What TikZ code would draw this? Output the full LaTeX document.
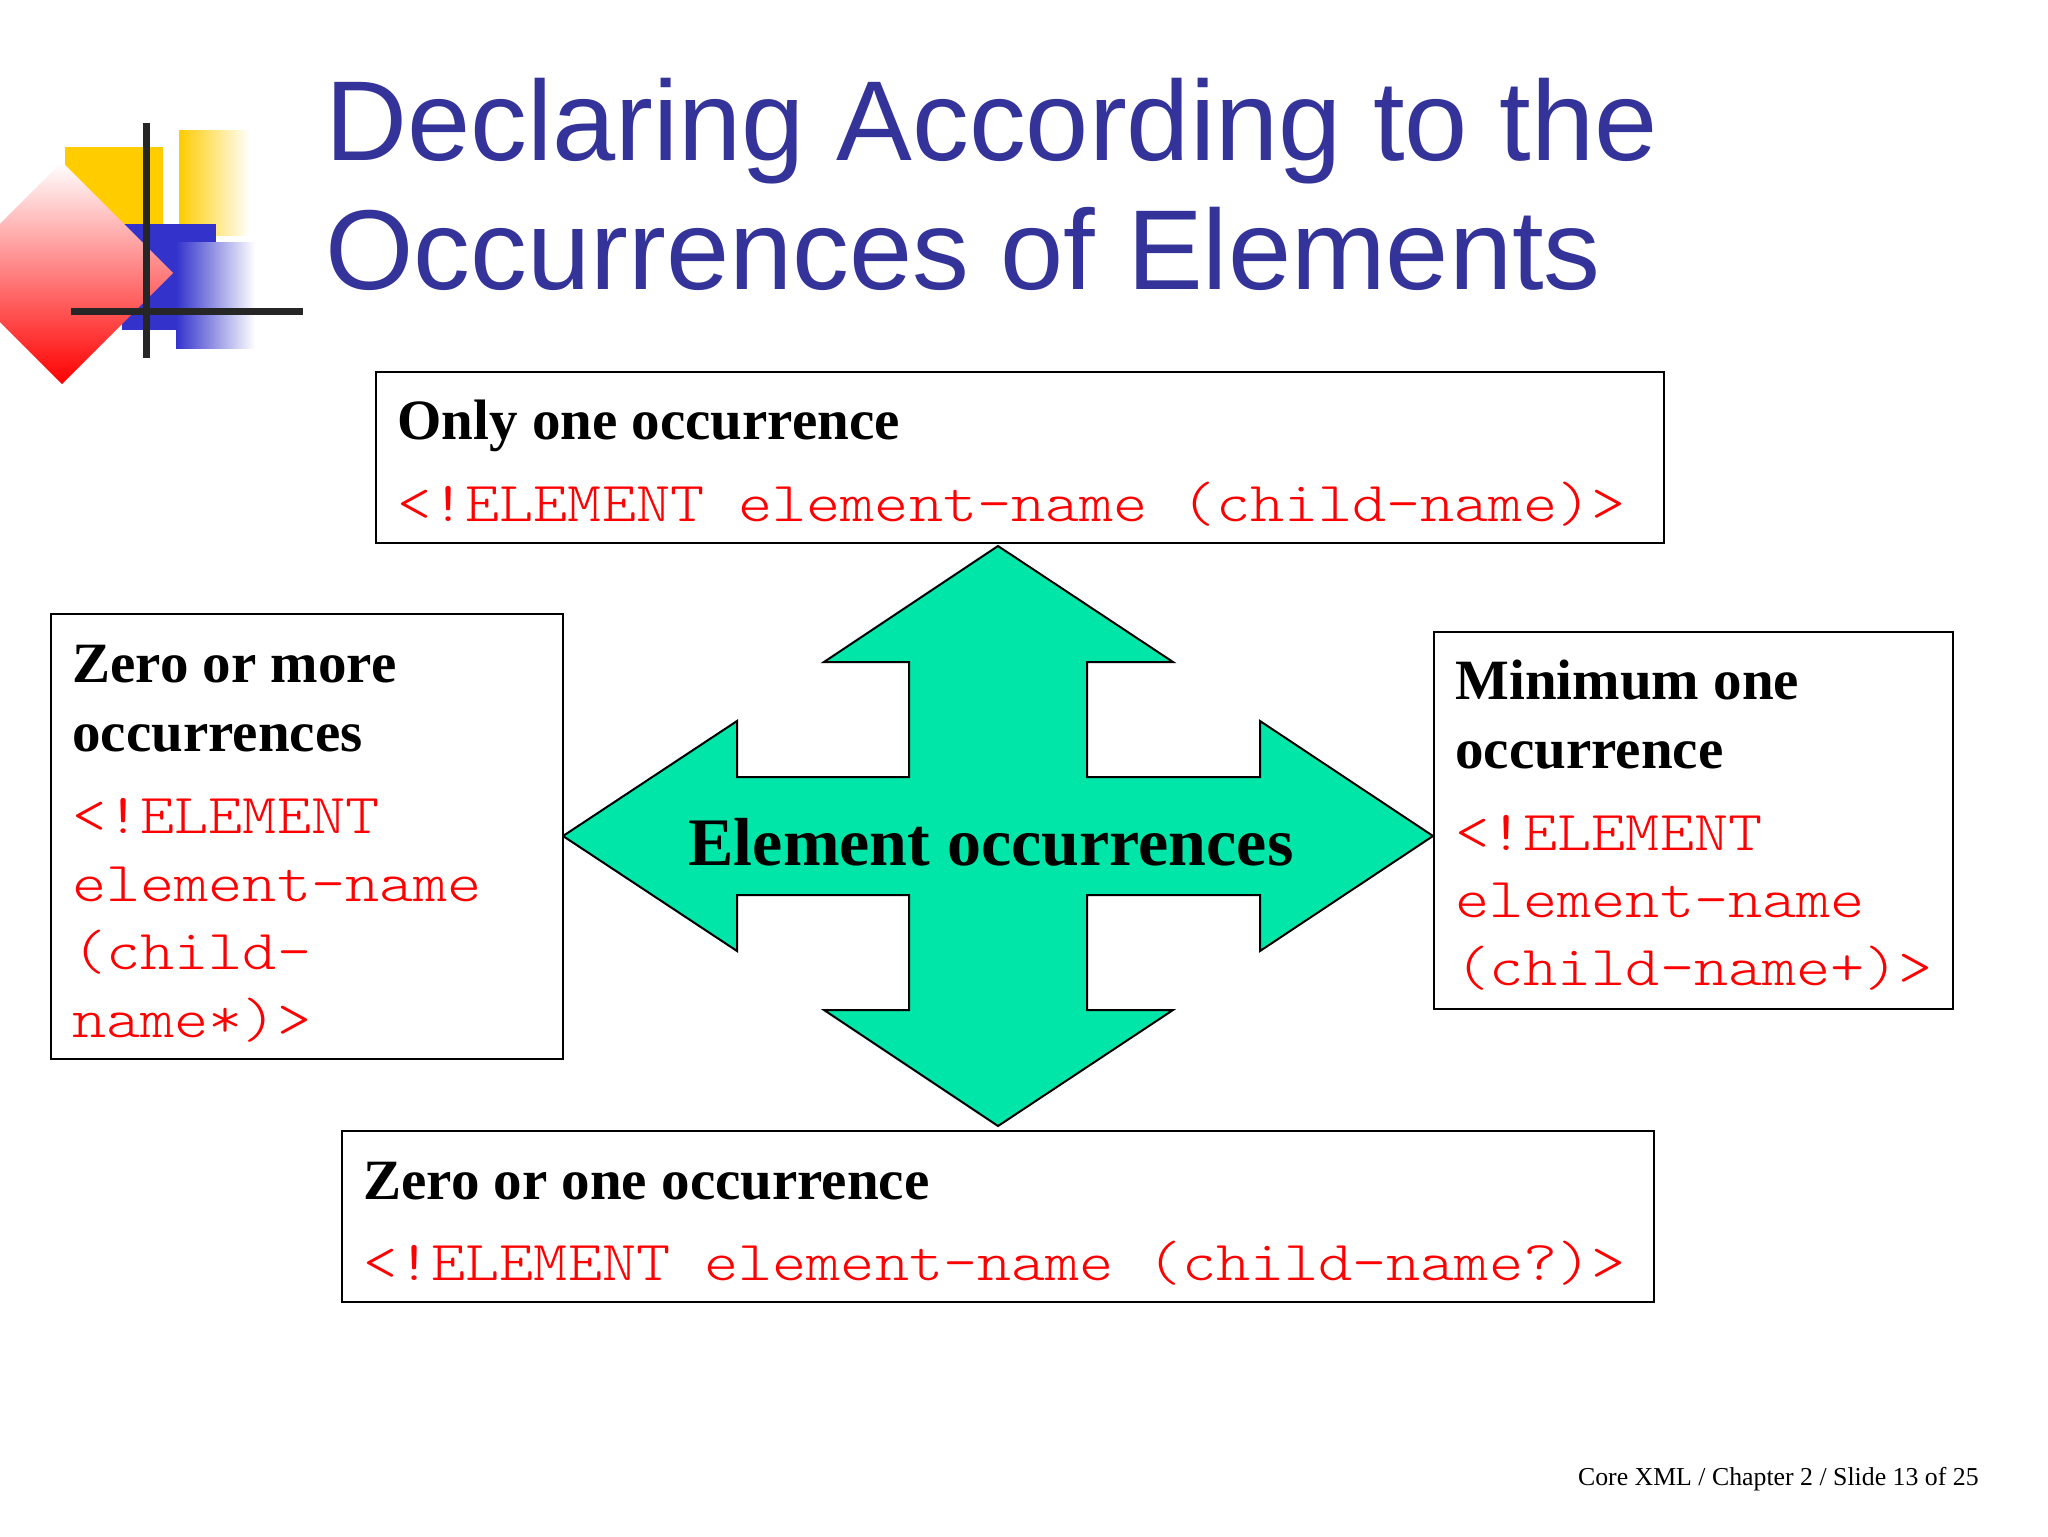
\documentclass[tikz,border=0pt]{standalone}
\usepackage{fontspec}
\setmainfont{Liberation Serif}
\newfontfamily\titlefont{Liberation Sans}
\newfontfamily\codefont[FakeStretch=1.15]{Latin Modern Mono Light}
\definecolor{titleblue}{RGB}{51,51,153}
\definecolor{crossgreen}{RGB}{0,230,168}
\definecolor{logoyellow}{RGB}{255,204,0}
\definecolor{logoblue}{RGB}{51,51,204}
\tikzset{
  box/.style={draw=black, line width=1pt, fill=white, anchor=north west, inner sep=0pt},
  headtext/.style={anchor=base west, inner sep=0pt, font=\fontsize{28.5}{28.5}\selectfont\bfseries},
  codetext/.style={anchor=base west, inner sep=0pt, text=red, font=\fontsize{28.25}{34}\selectfont\codefont},
  titletext/.style={anchor=base west, inner sep=0pt, text=titleblue, font=\fontsize{56.8}{56.8}\selectfont\titlefont},
  logoline/.style={line width=3.5pt, draw=black!85}
}
\begin{document}
\begin{tikzpicture}[x=0.5pt, y=-0.5pt]
\useasboundingbox (0,0) rectangle (2048,1536);
% logo
\fill [logoyellow] (65,147) rectangle (163,225);
\shade [left color=logoyellow, right color=white] (179,130) rectangle (250,235);
\fill [logoblue] (122,224) rectangle (216,330);
\shade [left color=logoblue, right color=white] (176,242) rectangle (255,348);
\node [rotate=-45, minimum size=78.5pt, inner sep=0pt, top color=white, bottom color=red] (logodiamond) at (62,273) {};
\coordinate (vtop) at (146,123);
\coordinate (vbot) at (146,358);
\coordinate (hleft) at (71,311);
\coordinate (hright) at (303,311);
\draw [logoline] (vtop) -- (vbot);
\draw [logoline] (hleft) -- (hright);
% title
\node [titletext] (title1) at (325,160) {Declaring According to the};
\node [titletext] (title2) at (325,289) {Occurrences of Elements};
% centre arrow
\draw [line width=1pt, fill=crossgreen] (998,546) -- (1173,662) -- (1087,662) -- (1087,777) -- (1260,777) -- (1260,721)
  -- (1433,836) -- (1260,951) -- (1260,895) -- (1087,895) -- (1087,1010) -- (1173,1010) -- (998,1126) -- (824,1010)
  -- (909,1010) -- (909,895) -- (737,895) -- (737,951) -- (563,836) -- (737,721) -- (737,777) -- (909,777) -- (909,662) -- (824,662) -- cycle;
\node [anchor=base, inner sep=0pt, font=\fontsize{34}{34}\selectfont\bfseries] (centre) at (991,865) {Element occurrences};
% top box
\node [box, minimum width=644pt, minimum height=85.5pt] (onebox) at (375,371) {};
\node [headtext] (onehead) at (397,439) {Only one occurrence};
\node [codetext] (onecode) at (397,521) {<!ELEMENT element-name (child-name)>};
% left box
\node [box, minimum width=256pt, minimum height=222.5pt] (morebox) at (50,613) {};
\node [headtext] (morehead1) at (72,682) {Zero or more};
\node [headtext] (morehead2) at (72,751) {occurrences};
\node [codetext] at (72,833) (morecode1) {<!ELEMENT};
\node [codetext] at (72,901) (morecode2) {element-name};
\node [codetext] at (72,969) (morecode3) {(child-};
\node [codetext] at (72,1037) (morecode4) {name*)>};
% right box
\node [box, minimum width=259.5pt, minimum height=188.5pt] (minbox) at (1433,631) {};
\node [headtext] (minhead1) at (1455,699) {Minimum one};
\node [headtext] (minhead2) at (1455,768) {occurrence};
\node [codetext] at (1455,850) (mincode1) {<!ELEMENT};
\node [codetext] at (1455,917) (mincode2) {element-name};
\node [codetext] at (1455,985) (mincode3) {(child-name+)>};
% bottom box
\node [box, minimum width=656pt, minimum height=85.5pt] (zerobox) at (341,1130) {};
\node [headtext] (zerohead) at (363,1199) {Zero or one occurrence};
\node [codetext] (zerocode) at (363,1280) {<!ELEMENT element-name (child-name?)>};
% footer
\node [anchor=base east, inner sep=0pt, font=\fontsize{12.9}{12.9}\selectfont] (footer) at (1979,1485) {Core XML / Chapter 2 / Slide 13 of 25};
\end{tikzpicture}
\end{document}
